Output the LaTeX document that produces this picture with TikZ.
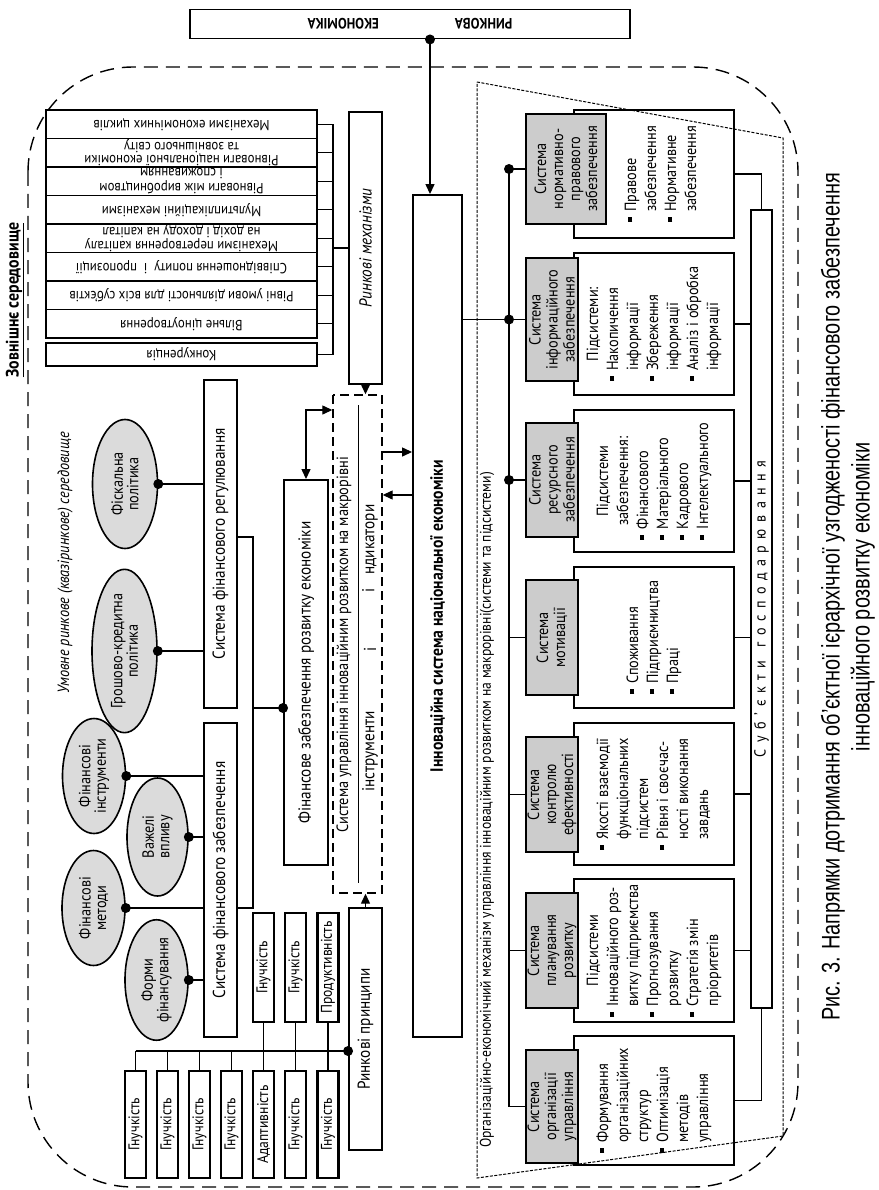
\documentclass[tikz,border=0pt]{standalone}
\usepackage{fontspec}
\setmainfont{PT Sans}[FakeStretch=0.88]
\newfontfamily\capfont{Liberation Sans}[FakeStretch=0.78]
\usetikzlibrary{shapes.geometric,arrows.meta}

\definecolor{boxgray}{gray}{0.80}
\definecolor{ovalgray}{gray}{0.86}
\newcommand{\bul}{\rule[0.22em]{0.3em}{0.3em}\hspace{0.35em}}
\newcommand{\bulpad}{\hphantom{\bul}}
\newcommand{\hdr}[1]{\multicolumn{1}{@{}c@{}}{#1}}
\newcommand{\itemlines}[1]{\begin{tabular}{@{}l@{}}#1\end{tabular}}

\tikzset{
  sysbox/.style={draw, line width=1.9pt, rotate=90, inner sep=1pt, align=center,
    font=\fontsize{17.3}{19}\selectfont},
  graybox/.style={sysbox, fill=boxgray, font=\fontsize{16.2}{17}\selectfont},
  detbox/.style={sysbox, fill=white, font=\fontsize{16.2}{20}\selectfont},
  ovalnode/.style={draw, ellipse, line width=1.6pt, fill=ovalgray, rotate=90,
    inner sep=0pt, align=center, font=\fontsize{16.2}{15.5}\selectfont},
  mechrow/.style={draw, line width=1.4pt, rotate=180, minimum width=271pt,
    minimum height=28.5pt, inner sep=0pt, align=center,
    font=\fontsize{14.6}{12.8}\selectfont},
  flexbox/.style={sysbox, line width=2.2pt, minimum height=21pt, inner sep=0pt,
    font=\fontsize{15.5}{16}\selectfont},
  dashbox/.style={draw, line width=1.4pt, dash pattern=on 9pt off 5pt, rotate=90},
  topbox/.style={draw, line width=1.9pt, rotate=180, minimum width=440pt,
    minimum height=29pt, font=\bfseries\fontsize{15}{16}\selectfont},
  wire/.style={line width=1.3pt},
  arr/.style={wire, -{Triangle[length=10pt,width=9pt]}},
  dblarr/.style={wire, {Triangle[length=10pt,width=9pt]}-{Triangle[length=10pt,width=9pt]}},
  envline/.style={line width=1.4pt, dash pattern=on 14pt off 8pt, rounded corners=105pt},
  trapline/.style={line width=1pt, dash pattern=on 3pt off 1.5pt},
  vtext/.style={rotate=90, inner sep=0pt, font=\fontsize{17.3}{19}\selectfont},
}

\begin{document}
\begin{tikzpicture}[x=1pt, y=-1pt]
\useasboundingbox (0,0) rectangle (878,1190);

% outer environment
\draw[envline] (28,67) rectangle (798,1187);
\node[vtext, font=\bfseries\fontsize{18}{20}\selectfont] (extenv) at (15,300) {\underline{Зовнішнє середовище}};
\node[vtext, font=\itshape\fontsize{16.3}{19}\selectfont] (quasienv) at (65,563) {Умовне ринкове (квазіринкове) середовище};

% market economy on top
\node[topbox] (market) at (410,24) {РИНКОВА\hspace{76pt}ЕКОНОМІКА};
\coordinate (topj) at (market.north -| 430,0);

% market mechanisms list
\node[mechrow] (r1) at (181.5,124.25) {Механізми економічних циклів};
\node[mechrow] (r2) at (181.5,152.75) {Рівноваги національної економіки\\та зовнішнього світу};
\node[mechrow] (r3) at (181.5,181.25) {Рівноваги між виробництвом\\і споживанням};
\node[mechrow] (r4) at (181.5,209.75) {Мультиплікаційні механізми};
\node[mechrow] (r5) at (181.5,238.25) {Механізми перетворення капіталу\\на дохід і доходу на капітал};
\node[mechrow] (r6) at (181.5,266.75) {Співвідношення попиту \ і \ пропозиції};
\node[mechrow] (r7) at (181.5,295.25) {Рівні умови діяльності для всіх суб’єктів};
\node[mechrow] (r8) at (181.5,323.75) {Вільне ціноутворення};
\node[mechrow, minimum height=23pt] (r9) at (181.5,354.5) {Конкуренція};
\coordinate (mbus) at (333,124.25);

\node[sysbox, minimum width=272pt, minimum height=33pt, font=\itshape\fontsize{17.3}{19}\selectfont] (mech) at (365.5,248) {Ринкові механізми};

\draw[wire] (r1.west) -- (r1.west -| mbus);
\draw[wire] (r2.west) -- (r2.west -| mbus);
\draw[wire] (r3.west) -- (r3.west -| mbus);
\draw[wire] (r4.west) -- (r4.west -| mbus);
\draw[wire] (r5.west) -- (r5.west -| mbus);
\draw[wire] (r6.west) -- (r6.west -| mbus);
\draw[wire] (r7.west) -- (r7.west -| mbus);
\draw[wire] (r8.west) -- (r8.west -| mbus);
\draw[wire] (r9.west) -- (r9.west -| mbus);
\draw[wire] (r1.west -| mbus) -- (r9.west -| mbus);
\draw[wire] (mech.north -| mbus) -- (mech.north);

% control system (dashed)
\node[dashbox, minimum width=498pt, minimum height=49pt] (ctrl) at (357.5,644) {};
\node[vtext, font=\fontsize{16.3}{19}\selectfont] (ctrltitle) at (344,645) {Система управління інноваційним розвитком на макрорівні};
\draw[wire] (358.5,405) -- (358.5,883);
\node[vtext] (instr) at (370,751.5) {інструменти};
\node[vtext] (andi) at (370,649) {і};
\node[vtext, anchor=west] (indic) at (370,593) {і\hspace{14pt}ндикатори};

\node[sysbox, minimum width=242pt, minimum height=33pt] (princ) at (365.5,1029) {Ринкові принципи};

% innovation system
\node[sysbox, minimum width=842pt, minimum height=49pt, font=\bfseries\fontsize{17.8}{19}\selectfont] (innov) at (437.5,616) {Інноваційна система національної економіки};

% financial boxes
\node[sysbox, minimum width=328pt, minimum height=33pt] (freg) at (220.5,544) {Система фінансового регулювання};
\node[sysbox, minimum width=314pt, minimum height=33pt] (fsup) at (220.5,880) {Система фінансового забезпечення};
\node[sysbox, minimum width=385pt, minimum height=44pt] (fdev) at (306,672.5) {Фінансове забезпечення розвитку економіки};

% ovals
\node[ovalnode, minimum width=129pt, minimum height=65pt] (fisk) at (125,484) {Фіскальна\\політика};
\node[ovalnode, minimum width=143pt, minimum height=65pt] (hrosh) at (124.5,651) {Грошово-кредитна\\політика};
\node[ovalnode, minimum width=115pt, minimum height=63pt] (finst) at (94,776) {Фінансові\\інструменти};
\node[ovalnode, minimum width=118pt, minimum height=61pt] (vazh) at (157.5,837) {Важелі\\впливу};
\node[ovalnode, minimum width=115pt, minimum height=63pt] (fmet) at (93.5,908) {Фінансові\\методи};
\node[ovalnode, minimum width=115pt, minimum height=63pt] (form) at (156.5,980) {Форми\\фінансування};

\draw[wire] (fisk.south) -- (fisk.south -| freg.north);
\draw[wire] (hrosh.south) -- (hrosh.south -| freg.north);
\draw[wire] (finst.south) -- (finst.south -| fsup.north);
\draw[wire] (vazh.south) -- (vazh.south -| fsup.north);
\draw[wire] (fmet.south) -- (fmet.south -| fsup.north);
\draw[wire] (form.south) -- (form.south -| fsup.north);
\fill (fisk.south) circle (5pt);
\fill (hrosh.south) circle (5pt);
\fill (finst.south) circle (5pt);
\fill (vazh.south) circle (5pt);
\fill (fmet.south) circle (5pt);
\fill (form.south) circle (5pt);

\coordinate (fbr) at (253,708);
\draw[wire] (freg.south |- 0,537) -| (fbr) |- (fsup.south |- 0,908);
\draw[wire] (fbr) -- (fbr -| fdev.north);
\fill (fbr -| fdev.north) circle (5pt);

% flexibility boxes
\node[flexbox, minimum width=107pt] (fl1) at (135.5,1124.5) {Гнучкість};
\node[flexbox, minimum width=107pt] (fl2) at (167.5,1124.5) {Гнучкість};
\node[flexbox, minimum width=107pt] (fl3) at (199.5,1124.5) {Гнучкість};
\node[flexbox, minimum width=107pt] (fl4) at (231.5,1124.5) {Гнучкість};
\node[flexbox, minimum width=107pt] (fl5) at (263.5,1124.5) {Адаптивність};
\node[flexbox, minimum width=107pt] (fl6) at (295.5,1124.5) {Гнучкість};
\node[flexbox, minimum width=107pt] (fl7) at (328,1124.5) {Гнучкість};
\node[flexbox, minimum width=109pt] (fu1) at (263.5,967.5) {Гнучкість};
\node[flexbox, minimum width=109pt] (fu2) at (295.5,967.5) {Гнучкість};
\node[flexbox, minimum width=109pt] (fu3) at (328,967.5) {Продуктивність};
\coordinate (fbus) at (135.5,1051);
\draw[wire] (fbus) -- (fbus -| princ.north);
\fill (fbus -| princ.north) circle (5pt);
\draw[wire] (fl1.east |- fbus) -- (fl1.east);
\draw[wire] (fl2.east |- fbus) -- (fl2.east);
\draw[wire] (fl3.east |- fbus) -- (fl3.east);
\draw[wire] (fl4.east |- fbus) -- (fl4.east);
\draw[wire] (fu1.west) -- (fl5.east);
\draw[wire] (fu2.west) -- (fl6.east);
\draw[wire] (fu3.west) -- (fl7.east);

% arrows around the control system
\fill (topj) circle (5pt);
\draw[arr] (topj) -- (topj |- innov.east);
\draw[arr] (mech.west) -- (mech.west |- ctrl.east);
\draw[arr] (princ.east) -- (princ.east |- ctrl.west);
\draw[dblarr] (fdev.east) |- (ctrl.north |- 0,410);
\draw[arr] (ctrl.south |- 0,452) -- (innov.north |- 0,452);
\draw[arr] (innov.north |- 0,495) -- (ctrl.south |- 0,495);

% subsystems: detail boxes
\node[detbox, minimum width=128pt, minimum height=160pt] (d1) at (654,174) {};
\node[vtext, font=\fontsize{16.2}{20}\selectfont] (d1txt) at (662,174) {\itemlines{\bul Правове\\ \bulpad забезпечення\\ \bul Нормативне\\ \bulpad забезпечення}};
\node[detbox, minimum width=142pt, minimum height=160pt] (d2) at (654,324) {\itemlines{\hdr{Підсистеми:}\\ \bul Накопичення\\ \bulpad інформації\\ \bul Збереження\\ \bulpad інформації\\ \bul Аналіз і обробка\\ \bulpad інформації}};
\node[detbox, minimum width=142pt, minimum height=160pt] (d3) at (654,481) {\itemlines{\hdr{Підсистеми}\\ \hdr{забезпечення:}\\ \bul Фінансового\\ \bul Матеріального\\ \bul Кадрового\\ \bul Інтелектуального}};
\node[detbox, minimum width=141pt, minimum height=160pt] (d4) at (654,637.5) {\itemlines{\bul Споживання\\ \bul Підприємництва\\ \bul Праці}};
\node[detbox, minimum width=142pt, minimum height=160pt] (d5) at (654,794) {\itemlines{\bul Якості взаємодії\\ \bulpad функціональних\\ \bulpad підсистем\\ \bul Рівня і своєчас-\\ \bulpad ності виконання\\ \bulpad завдань}};
\node[detbox, minimum width=143pt, minimum height=160pt] (d6) at (654,950.5) {\itemlines{\hdr{Підсистеми}\\ \bul Інноваційного роз-\\ \bulpad витку підприємства\\ \bul Прогнозування\\ \bulpad розвитку\\ \bul Стратегія змін\\ \bulpad пріоритетів}};
\node[detbox, minimum width=129pt, minimum height=160pt] (d7) at (654,1100.5) {\itemlines{\bul Формування\\ \bulpad організаційних\\ \bulpad структур\\ \bul Оптимізація\\ \bulpad методів\\ \bulpad управління}};

% subsystems: grey headers
\node[graybox, minimum width=110pt, minimum height=80pt] (h1) at (566,169) {Система\\нормативно-\\правового\\забезпечення};
\node[graybox, minimum width=123pt, minimum height=52pt] (h2) at (552,319.5) {Система\\інформаційного\\забезпечення};
\node[graybox, minimum width=114pt, minimum height=52pt] (h3) at (552,480) {Система\\ресурсного\\забезпечення};
\node[graybox, minimum width=115pt, minimum height=52pt] (h4) at (552,637.5) {Система\\мотивації};
\node[graybox, minimum width=115pt, minimum height=52pt] (h5) at (552,794.5) {Система\\контролю\\ефективності};
\node[graybox, minimum width=115pt, minimum height=52pt] (h6) at (552,950.5) {Система\\планування\\розвитку};
\node[graybox, minimum width=113pt, minimum height=52pt] (h7) at (552,1106.5) {Система\\організації\\управління};

% economic agents
\node[sysbox, minimum width=798pt, minimum height=21pt, inner sep=0pt, font=\fontsize{16}{16}\selectfont] (subj) at (761.5,609)
  {{\spaceskip=6.5pt\relax С у б ’ є к т и\hspace{13pt}г о с п о д а р ю в а н н я}};

\draw[wire] (d1.south) -| (subj.east);
\draw[wire] (d2.south) -- (d2.south -| subj.north);
\draw[wire] (d3.south) -- (d3.south -| subj.north);
\draw[wire] (d4.south) -- (d4.south -| subj.north);
\draw[wire] (d5.south) -- (d5.south -| subj.north);
\draw[wire] (d6.south) -- (d6.south -| subj.north);
\draw[wire] (d7.south) -| (subj.west);

% bus from the innovation system
\coordinate (sbus) at (509,0);
\draw[wire] (h1.north -| sbus) |- (h7.north);
\draw[wire] (h1.north -| sbus) -- (h1.north);
\draw[wire] (h2.north -| sbus) -- (h2.north);
\draw[wire] (h3.north -| sbus) -- (h3.north);
\draw[wire] (h4.north -| sbus) -- (h4.north);
\draw[wire] (h5.north -| sbus) -- (h5.north);
\draw[wire] (h6.north -| sbus) -- (h6.north);
\draw[wire] (innov.south |- h2.north) -- (h2.north -| sbus);
\fill (h1.north -| sbus) circle (5pt);
\fill (h2.north -| sbus) circle (5pt);
\fill (h3.north -| sbus) circle (5pt);

% organisational mechanism frame
\draw[trapline] (477,82) -- (783,138) -- (783,1136) -- (477,1178) -- cycle;
\node[vtext, anchor=west, font=\fontsize{15.5}{18}\selectfont] (orgmech) at (487,1148) {Організаційно-економічний механізм управління інноваційним розвитком на макрорівні(системи та підсистеми)};

% caption
\node[rotate=90, align=center, inner sep=0pt, font=\capfont\fontsize{25.5}{30}\selectfont] (caption) at (848,597)
  {Рис. 3. Напрямки дотримання об’єктної ієрархічної узгодженості фінансового забезпечення\\інноваційного розвитку економіки};
\end{tikzpicture}
\end{document}
